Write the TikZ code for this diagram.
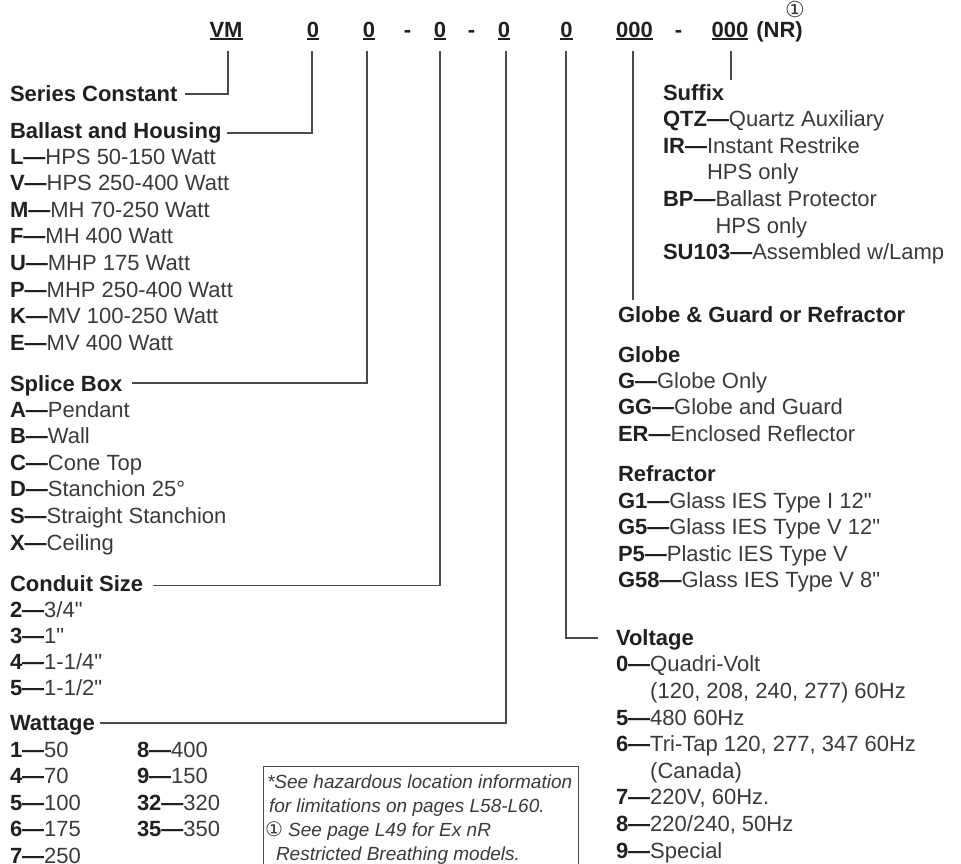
\documentclass[tikz,border=0pt]{standalone}
\usepackage{fontspec}
\setmainfont{Liberation Sans}[Ligatures=TeXOff]
\newfontfamily\djv{DejaVu Sans}
\definecolor{txt}{HTML}{3A3A3A}
\definecolor{hd}{HTML}{231F20}
\definecolor{ln}{HTML}{4A4A4A}
\newcommand\kv[2]{\textcolor{hd}{\bfseries #1—}#2}
\newcommand\ph[2]{\phantom{\bfseries #1—}#2}
\begin{document}
\begin{tikzpicture}[x=1pt,y=-1pt,
  every node/.style={inner sep=0pt,outer sep=0pt},
  lbl/.style={anchor=base west,font=\fontsize{22}{26}\selectfont,text=txt},
  hdr/.style={anchor=base west,font=\fontsize{22}{26}\selectfont\bfseries,text=hd},
  code/.style={anchor=base,font=\fontsize{22}{26}\selectfont\bfseries,text=hd},
  conn/.style={draw=ln,line width=1.1pt},
  ul/.style={draw=hd,line width=1.1pt},
  note/.style={anchor=base west,font=\fontsize{19}{23}\selectfont\itshape,text=txt}]
\useasboundingbox (0,0) rectangle (961,863);

% code row
\node[code] (vm) at (226,37) {VM};
\node[code] (c1) at (313,37) {0};
\node[code] (c2) at (369,37) {0};
\node[code] (d1) at (407.5,37) {-};
\node[code] (c3) at (440,37) {0};
\node[code] (d2) at (471.5,37) {-};
\node[code] (c4) at (504,37) {0};
\node[code] (c5) at (566.5,37) {0};
\node[code] (c6) at (634.5,37) {000};
\node[code] (d3) at (678.5,37) {-};
\node[code] (c7) at (730,37) {000};
\node[code] (nr) at (779.5,37) {(NR)};
\node[anchor=base,font=\djv\fontsize{22}{22}\selectfont,text=txt] (fn) at (795,17) {\smash{①}};
\foreach \n in {vm,c1,c2,c3,c4,c5,c6,c7}
  \draw[ul] ([yshift=-2pt]\n.base west) -- ([yshift=-2pt]\n.base east);

% tick tops
\coordinate (tvm) at (228,51);
\coordinate (t1) at (312,51);
\coordinate (t2) at (367,51);
\coordinate (t3) at (440,51);
\coordinate (t4) at (506,51);
\coordinate (t5) at (566,51);
\coordinate (t6) at (633,51);
\coordinate (t7) at (731,51);

% left column
\node[hdr] (sc) at (10,101) {Series Constant};
\node[hdr] (bh) at (10,138) {Ballast and Housing};
\node[lbl] (bh1) at (10,164) {\kv{L}{HPS 50-150 Watt}};
\node[lbl] (bh2) at (10,190.6) {\kv{V}{HPS 250-400 Watt}};
\node[lbl] (bh3) at (10,217.2) {\kv{M}{MH 70-250 Watt}};
\node[lbl] (bh4) at (10,243.8) {\kv{F}{MH 400 Watt}};
\node[lbl] (bh5) at (10,270.4) {\kv{U}{MHP 175 Watt}};
\node[lbl] (bh6) at (10,297) {\kv{P}{MHP 250-400 Watt}};
\node[lbl] (bh7) at (10,323.6) {\kv{K}{MV 100-250 Watt}};
\node[lbl] (bh8) at (10,350.2) {\kv{E}{MV 400 Watt}};

\node[hdr] (sb) at (10,391) {Splice Box};
\node[lbl] (sb1) at (10,417) {\kv{A}{Pendant}};
\node[lbl] (sb2) at (10,443.6) {\kv{B}{Wall}};
\node[lbl] (sb3) at (10,470.2) {\kv{C}{Cone Top}};
\node[lbl] (sb4) at (10,496.8) {\kv{D}{Stanchion 25°}};
\node[lbl] (sb5) at (10,523.4) {\kv{S}{Straight Stanchion}};
\node[lbl] (sb6) at (10,550) {\kv{X}{Ceiling}};

\node[hdr] (cs) at (10,591) {Conduit Size};
\node[lbl] (cs1) at (10,617) {\kv{2}{3/4"}};
\node[lbl] (cs2) at (10,643) {\kv{3}{1"}};
\node[lbl] (cs3) at (10,669) {\kv{4}{1-1/4"}};
\node[lbl] (cs4) at (10,695.5) {\kv{5}{1-1/2"}};

\node[hdr] (wt) at (10,730) {Wattage};
\node[lbl] (w1) at (10,757) {\kv{1}{50}};
\node[lbl] (w2) at (10,783.6) {\kv{4}{70}};
\node[lbl] (w3) at (10,810.2) {\kv{5}{100}};
\node[lbl] (w4) at (10,836.8) {\kv{6}{175}};
\node[lbl] (w5) at (10,863.4) {\kv{7}{250}};
\node[lbl] (w6) at (137,757) {\kv{8}{400}};
\node[lbl] (w7) at (137,783.6) {\kv{9}{150}};
\node[lbl] (w8) at (137,810.2) {\kv{32}{320}};
\node[lbl] (w9) at (137,836.8) {\kv{35}{350}};

% footnote box
\draw[conn,line width=1pt] (263,866) -- (263,766) -- (578,766) -- (578,866);
\node[note] (n1) at (267,788) {*See hazardous location information};
\node[note] (n2) at (269,812) {for limitations on pages L58-L60.};
\node[note] (n3) at (265,836) {{\djv\upshape\fontsize{20}{20}\selectfont ①} See page L49 for Ex nR};
\node[note] (n4) at (276,860) {Restricted Breathing models.};

% right column
\node[hdr] (sfx) at (663,100) {Suffix};
\node[lbl] (s1) at (663,126.5) {\kv{QTZ}{Quartz Auxiliary}};
\node[lbl] (s2) at (663,153) {\kv{IR}{Instant Restrike}};
\node[lbl] (s3) at (663,179.5) {\ph{IR}{HPS only}};
\node[lbl] (s4) at (663,206) {\kv{BP}{Ballast Protector}};
\node[lbl] (s5) at (663,233) {\ph{BP}{HPS only}};
\node[lbl] (s6) at (663,259) {\kv{SU103}{Assembled w/Lamp}};

\node[hdr] (gg) at (618,322) {Globe \& Guard or Refractor};
\node[hdr] (gl) at (618,362) {Globe};
\node[lbl] (g1) at (618,388) {\kv{G}{Globe Only}};
\node[lbl] (g2) at (618,414.5) {\kv{GG}{Globe and Guard}};
\node[lbl] (g3) at (618,441) {\kv{ER}{Enclosed Reflector}};
\node[hdr] (rf) at (618,481) {Refractor};
\node[lbl] (r1) at (618,508) {\kv{G1}{Glass IES Type I 12"}};
\node[lbl] (r2) at (618,534.5) {\kv{G5}{Glass IES Type V 12"}};
\node[lbl] (r3) at (618,561) {\kv{P5}{Plastic IES Type V}};
\node[lbl] (r4) at (618,587.5) {\kv{G58}{Glass IES Type V 8"}};

\node[hdr] (vt) at (616,645) {Voltage};
\node[lbl] (v1) at (616,671.6) {\kv{0}{Quadri-Volt}};
\node[lbl] (v2) at (616,698) {\ph{0}{(120, 208, 240, 277) 60Hz}};
\node[lbl] (v3) at (616,725) {\kv{5}{480 60Hz}};
\node[lbl] (v4) at (616,751.5) {\kv{6}{Tri-Tap 120, 277, 347 60Hz}};
\node[lbl] (v5) at (616,778) {\ph{6}{(Canada)}};
\node[lbl] (v6) at (616,804.7) {\kv{7}{220V, 60Hz.}};
\node[lbl] (v7) at (616,831.3) {\kv{8}{220/240, 50Hz}};
\node[lbl] (v8) at (616,858) {\kv{9}{Special}};

% connectors
\draw[conn] ([xshift=8pt,yshift=7pt]sc.base east) -| (tvm);
\draw[conn] ([xshift=6pt,yshift=5pt]bh.base east) -| (t1);
\draw[conn] ([xshift=10pt,yshift=8pt]sb.base east) -| (t2);
\draw[conn] ([xshift=10pt,yshift=5.5pt]cs.base east) -| (t3);
\draw[conn] ([xshift=5pt,yshift=7pt]wt.base east) -| (t4);
\draw[conn] (t5) |- ([xshift=-18pt,yshift=7pt]vt.base west);
\draw[conn,shorten >=6pt] (t6) -- (t6 |- gg.north);
\draw[conn,shorten >=4pt] (t7) -- (t7 |- sfx.north);
\end{tikzpicture}
\end{document}
